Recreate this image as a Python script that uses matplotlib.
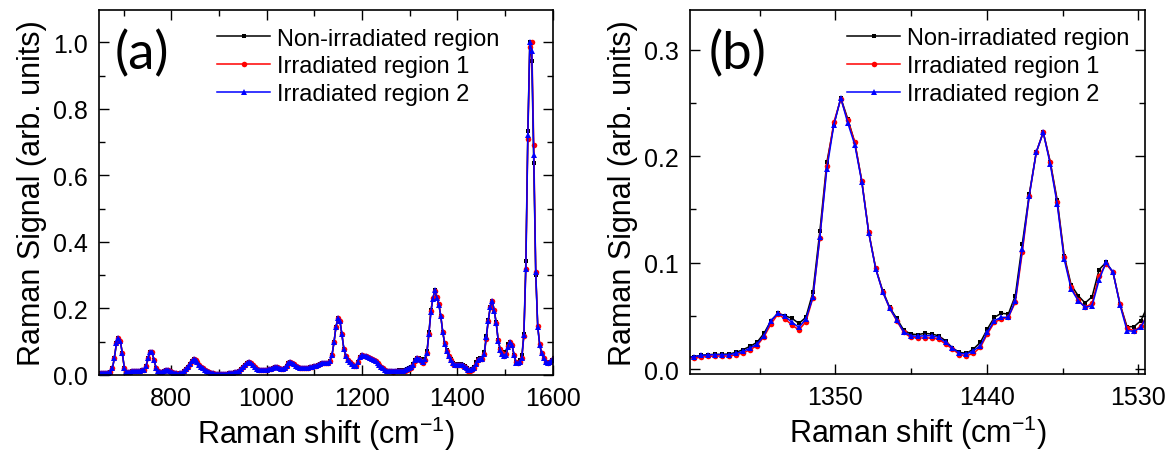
import numpy as np
import matplotlib
matplotlib.use("Agg")
import matplotlib.pyplot as plt
from matplotlib.ticker import MultipleLocator, FormatStrFormatter

plt.rcParams["font.family"] = ["Liberation Sans", "DejaVu Sans"]
plt.rcParams["mathtext.default"] = "regular"

# Raman shift sampling of the spectrometer (cm^-1)
SHIFT_START = 651.8
SHIFT_STEP = 4.15

# Below ~1264 cm^-1 the three normalised spectra coincide within the line width
common_low = [
    0.005, 0.005, 0.005, 0.005, 0.006, 0.008, 0.020, 0.052, 0.095, 0.112,
    0.102, 0.065, 0.022, 0.010, 0.009, 0.010, 0.011, 0.012, 0.012, 0.013,
    0.013, 0.014, 0.016, 0.026, 0.050, 0.069, 0.068, 0.046, 0.022, 0.011,
    0.009, 0.010, 0.013, 0.015, 0.014, 0.011, 0.008, 0.006, 0.005, 0.004,
    0.005, 0.007, 0.012, 0.018, 0.025, 0.034, 0.043, 0.048, 0.045, 0.038,
    0.031, 0.025, 0.020, 0.016, 0.012, 0.009, 0.007, 0.005, 0.004, 0.003,
    0.003, 0.003, 0.003, 0.004, 0.004, 0.005, 0.006, 0.007, 0.008, 0.010,
    0.012, 0.017, 0.024, 0.031, 0.036, 0.038, 0.036, 0.030, 0.023, 0.018,
    0.015, 0.014, 0.014, 0.015, 0.016, 0.017, 0.019, 0.022, 0.024, 0.024,
    0.021, 0.019, 0.019, 0.022, 0.028, 0.035, 0.039, 0.037, 0.032, 0.027,
    0.024, 0.022, 0.021, 0.021, 0.022, 0.022, 0.023, 0.024, 0.026, 0.028,
    0.031, 0.034, 0.036, 0.036, 0.036, 0.037, 0.043, 0.060, 0.098, 0.145,
    0.170, 0.163, 0.122, 0.078, 0.057, 0.046, 0.038, 0.032, 0.027, 0.027,
    0.038, 0.053, 0.059, 0.058, 0.056, 0.054, 0.051, 0.048, 0.045, 0.041,
    0.037, 0.031, 0.025, 0.020, 0.016, 0.013, 0.012, 0.011,
]

# 1266 - 1532 cm^-1 window
non_irr_mid = [
    0.0116, 0.0129, 0.0135, 0.0138, 0.0138, 0.0141, 0.0157, 0.0182, 0.0213, 0.0251,
    0.0335, 0.0455, 0.0524, 0.0502, 0.0476, 0.0429, 0.0486, 0.0721, 0.1295, 0.1944,
    0.2295, 0.2549, 0.2351, 0.2132, 0.1771, 0.1285, 0.0947, 0.0737, 0.0580, 0.0476,
    0.0367, 0.0329, 0.0323, 0.0335, 0.0329, 0.0313, 0.0266, 0.0197, 0.0157, 0.0147,
    0.0188, 0.0251, 0.0376, 0.0486, 0.0524, 0.0517, 0.0690, 0.1176, 0.1646, 0.2038,
    0.2226, 0.1950, 0.1589, 0.1066, 0.0790, 0.0690, 0.0621, 0.0680, 0.0934, 0.1003,
    0.0909, 0.0611, 0.0398, 0.0398, 0.0455,
]
irr1_mid = [
    0.0100, 0.0113, 0.0119, 0.0122, 0.0122, 0.0122, 0.0135, 0.0150, 0.0182, 0.0219,
    0.0304, 0.0423, 0.0517, 0.0470, 0.0414, 0.0367, 0.0445, 0.0668, 0.1235, 0.1912,
    0.2320, 0.2539, 0.2339, 0.2132, 0.1771, 0.1285, 0.0947, 0.0727, 0.0571, 0.0455,
    0.0345, 0.0298, 0.0292, 0.0292, 0.0292, 0.0282, 0.0235, 0.0188, 0.0135, 0.0125,
    0.0147, 0.0204, 0.0329, 0.0439, 0.0470, 0.0486, 0.0627, 0.1097, 0.1630, 0.2038,
    0.2226, 0.1944, 0.1567, 0.1050, 0.0774, 0.0649, 0.0580, 0.0618, 0.0878, 0.0987,
    0.0909, 0.0611, 0.0382, 0.0361, 0.0401,
]
irr2_mid = [
    0.0116, 0.0129, 0.0132, 0.0135, 0.0135, 0.0135, 0.0147, 0.0166, 0.0197, 0.0235,
    0.0313, 0.0455, 0.0524, 0.0495, 0.0439, 0.0392, 0.0470, 0.0674, 0.1238, 0.1881,
    0.2295, 0.2549, 0.2313, 0.2110, 0.1762, 0.1279, 0.0940, 0.0727, 0.0571, 0.0464,
    0.0351, 0.0313, 0.0307, 0.0313, 0.0313, 0.0298, 0.0251, 0.0197, 0.0147, 0.0141,
    0.0172, 0.0219, 0.0345, 0.0455, 0.0486, 0.0486, 0.0643, 0.1129, 0.1630, 0.2038,
    0.2226, 0.1928, 0.1552, 0.1034, 0.0752, 0.0643, 0.0580, 0.0596, 0.0837, 0.1003,
    0.0909, 0.0602, 0.0361, 0.0354, 0.0392,
]

# 1536 - 1602 cm^-1 (G band)
non_irr_high = [0.060, 0.123, 0.344, 0.734, 1.000, 0.945, 0.636, 0.300, 0.145,
                0.090, 0.065, 0.050, 0.038, 0.036, 0.040, 0.046, 0.050]
irr1_high = [0.052, 0.118, 0.320, 0.710, 0.985, 1.000, 0.690, 0.310, 0.148,
             0.092, 0.066, 0.050, 0.038, 0.036, 0.040, 0.046, 0.050]
irr2_high = [0.052, 0.120, 0.320, 0.720, 1.000, 0.975, 0.660, 0.310, 0.145,
             0.090, 0.065, 0.050, 0.038, 0.036, 0.040, 0.046, 0.050]

labels = ["Non-irradiated region", "Irradiated region 1", "Irradiated region 2"]
colors = ["#000000", "#ff0000", "#0000ff"]
markers = ["s", "o", "^"]
msizes = [3.3, 4.0, 4.7]

spectra = [
    np.array(common_low + non_irr_mid + non_irr_high),
    np.array(common_low + irr1_mid + irr1_high),
    np.array(common_low + irr2_mid + irr2_high),
]
shift = SHIFT_START + SHIFT_STEP * np.arange(len(spectra[0]))

W, H = 1170, 452
fig = plt.figure(figsize=(W / 100, H / 100), dpi=100)
ax1 = fig.add_axes([99 / W, (H - 376) / H, 454 / W, 365 / H])
ax2 = fig.add_axes([690 / W, (H - 375) / H, 455 / W, 364 / H])

for ax in (ax1, ax2):
    for y, c, m, ms, lab in zip(spectra, colors, markers, msizes, labels):
        ax.plot(shift, y, color=c, lw=1.1, marker=m, ms=ms, mew=0,
                label=lab)
    for s in ax.spines.values():
        s.set_linewidth(1.2)
    ax.tick_params(which="both", direction="in", top=True, right=True,
                   labelsize=18, width=1.0, pad=8)
    ax.tick_params(which="major", length=7)
    ax.tick_params(which="minor", length=4)
    ax.set_ylabel("Raman Signal (arb. units)", fontsize=22)
    ax.set_xlabel("Raman shift (cm$^{-1}$)", fontsize=22)
    ax.legend(loc="upper left", frameon=False, fontsize=17,
              handlelength=2.25, handletextpad=0.3, labelspacing=0.25,
              borderpad=0, borderaxespad=0, numpoints=1)

ax1.set_xlim(648.5, 1601)
ax1.set_ylim(0, 1.097)
ax1.xaxis.set_major_locator(MultipleLocator(200))
ax1.xaxis.set_minor_locator(MultipleLocator(100))
ax1.yaxis.set_major_locator(MultipleLocator(0.2))
ax1.yaxis.set_minor_locator(MultipleLocator(0.1))
ax1.yaxis.set_major_formatter(FormatStrFormatter("%.1f"))
ax1.get_legend().set_bbox_to_anchor((0.26, 0.952))
ax1.yaxis.set_label_coords(-0.1145, 0.5)
ax1.xaxis.set_label_coords(0.5, -0.105)
ax1.text(0.095, 0.882, "(a)", transform=ax1.transAxes, ha="center",
         va="center", fontsize=38, family=["Lato", "DejaVu Sans"])

ax2.set_xlim(1263.5, 1534)
ax2.set_ylim(-0.0047, 0.3376)
ax2.xaxis.set_major_locator(MultipleLocator(90))
ax2.xaxis.set_minor_locator(MultipleLocator(45))
ax2.yaxis.set_major_locator(MultipleLocator(0.1))
ax2.yaxis.set_minor_locator(MultipleLocator(0.05))
ax2.yaxis.set_major_formatter(FormatStrFormatter("%.1f"))
ax2.get_legend().set_bbox_to_anchor((0.345, 0.952))
ax2.yaxis.set_label_coords(-0.1143, 0.5)
ax2.xaxis.set_label_coords(0.5, -0.105)
ax2.text(0.105, 0.882, "(b)", transform=ax2.transAxes, ha="center",
         va="center", fontsize=38, family=["Lato", "DejaVu Sans"])

fig.savefig("out.png", dpi=100)
